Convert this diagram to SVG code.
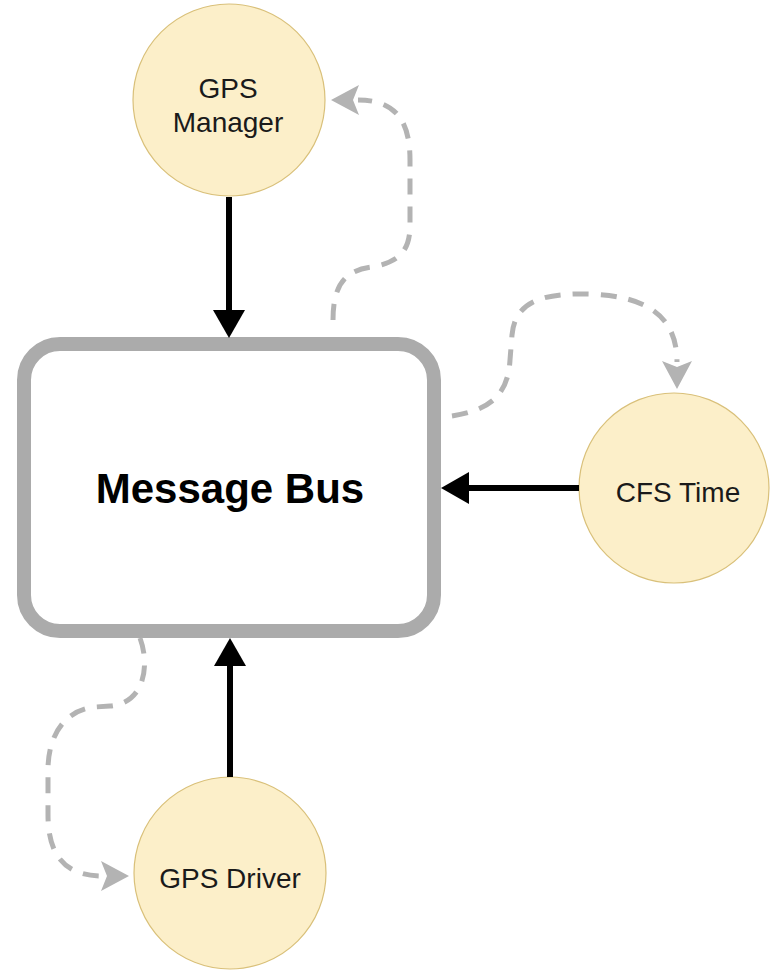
<svg xmlns="http://www.w3.org/2000/svg" width="770" height="971" viewBox="0 0 770 971">
<style>
.node{fill:#fcefc9;stroke:#d9c07a;stroke-width:1.2}
.lbl{font-family:"Liberation Sans",Arial,sans-serif;font-size:28px;fill:#1a1a1a;text-anchor:middle}
.bus{fill:#ffffff;stroke:#ababab;stroke-width:14}
.title{font-family:"Liberation Sans",Arial,sans-serif;font-size:42px;font-weight:bold;fill:#000;text-anchor:middle}
.solid{fill:none;stroke:#000;stroke-width:6;marker-end:url(#ab)}
.dash{fill:none;stroke:#b3b3b3;stroke-width:5;stroke-dasharray:16 12;marker-end:url(#ag)}
</style>
<defs>
<marker id="ab" markerUnits="userSpaceOnUse" viewBox="0 0 28 32" markerWidth="28" markerHeight="32" refX="0" refY="16" orient="auto">
<path d="M0 0 L28 16 L0 32 z" fill="#000"/>
</marker>
<marker id="ag" markerUnits="userSpaceOnUse" viewBox="0 0 28 30" markerWidth="28" markerHeight="30" refX="1" refY="15" orient="auto">
<path d="M0 0 L28 15 L0 30 L6 15 z" fill="#b3b3b3"/>
</marker>
</defs>
<rect width="770" height="971" fill="#ffffff"/>
<g id="message-bus">
<rect class="bus" x="24" y="344" width="410" height="287" rx="36" ry="36"/>
<text class="title" x="230" y="503">Message Bus</text>
</g>
<g id="gps-manager">
<circle class="node" cx="229" cy="100" r="96"/>
<text class="lbl" x="228" y="98">GPS</text>
<text class="lbl" x="228" y="132">Manager</text>
</g>
<g id="cfs-time">
<circle class="node" cx="674" cy="488" r="95"/>
<text class="lbl" x="678" y="502">CFS Time</text>
</g>
<g id="gps-driver">
<circle class="node" cx="230" cy="873" r="96"/>
<text class="lbl" x="230" y="888">GPS Driver</text>
</g>
<g id="connectors">
<path class="solid" d="M229 197 L229 310"/>
<path class="solid" d="M579 488 L469 488"/>
<path class="solid" d="M230 777 L230 666"/>
<path class="dash" d="M333 320 C333 285 345 270 372 267 C400 262 410 250 410 225 L410 160 C410 120 395 100 358 100"/>
<path class="dash" d="M452 416 C490 410 508 395 510 360 L512 335 C515 300 545 293 590 294 C645 296 677 315 677 362"/>
<path class="dash" d="M140 638 C150 665 145 703 110 706 L95 707 C65 710 48 735 48 770 L48 815 C48 855 65 876 102 876"/>
</g>
</svg>
